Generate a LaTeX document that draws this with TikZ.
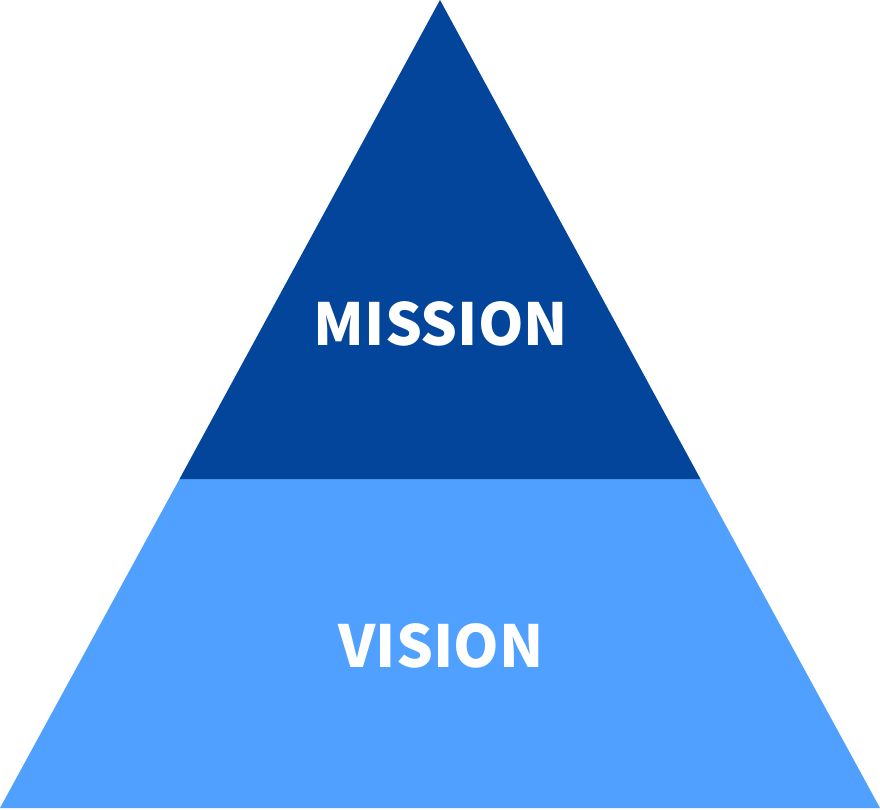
\documentclass[tikz,border=0pt]{standalone}
\usepackage{fontspec}
\newfontfamily\labfont{Noto Sans CJK JP}
\definecolor{darkblue}{HTML}{03459A}
\definecolor{lightblue}{HTML}{50A0FF}
\begin{document}
\begin{tikzpicture}[x=1pt,y=-1pt,
  lab/.style={text=white,font=\labfont\bfseries\fontsize{58}{58}\selectfont,inner sep=0pt,anchor=base}]
\useasboundingbox (0,0) rectangle (880,810);
\coordinate (apex) at (440,0);
\coordinate (bl) at (0,808);
\coordinate (br) at (880,808);
\coordinate (ml) at (179.5,479);
\coordinate (mr) at (700.5,479);
\fill[lightblue] (ml) -- (mr) -- (br) -- (bl) -- cycle;
\fill[darkblue] (apex) -- (mr) -- (ml) -- cycle;
\node[lab] (mission) at (441,345) {MISSION};
\node[lab] (vision) at (441,667) {VISION};
\end{tikzpicture}
\end{document}
